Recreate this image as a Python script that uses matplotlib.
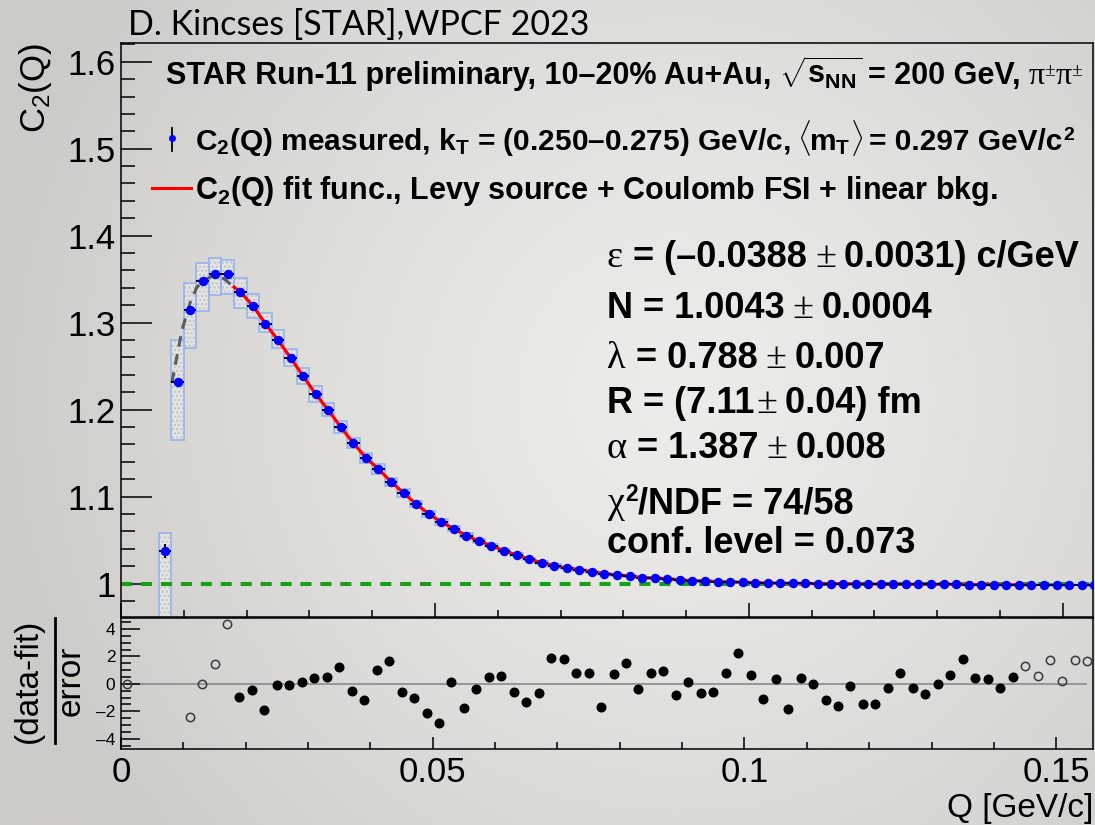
import numpy as np
import matplotlib.pyplot as plt
from matplotlib.lines import Line2D
from matplotlib.ticker import MultipleLocator

plt.rcParams['font.family'] = 'Liberation Sans'
plt.rcParams['mathtext.fontset'] = 'custom'
plt.rcParams['mathtext.rm'] = 'Liberation Sans'
plt.rcParams['mathtext.it'] = 'Liberation Sans:italic'
plt.rcParams['mathtext.bf'] = 'Liberation Sans:bold'
plt.rcParams['hatch.linewidth'] = 1.0

# ---- measured correlation function (bin centres in GeV/c) ----
q = np.round(np.arange(0.007, 0.1555, 0.002), 3)
c2 = np.array([
    1.038, 1.2315, 1.315, 1.3475, 1.356, 1.3555, 1.3355, 1.3195, 1.299, 1.280,
    1.2598, 1.2387, 1.218, 1.1997, 1.180, 1.1617, 1.1448, 1.1318, 1.1172, 1.1043,
    1.0916, 1.0805, 1.0709, 1.0632, 1.0552, 1.0491, 1.0437, 1.0379, 1.033, 1.0284,
    1.0241, 1.0207, 1.018, 1.0161, 1.0138, 1.0115, 1.010, 1.0089, 1.0069, 1.0066,
    1.0054, 1.0043, 1.0034, 1.0031, 1.0023, 1.002, 1.0016, 1.0011, 1.0008, 1.0006,
    1.0004, 1.0003, 1.0001, 1.0000, 0.9999, 0.9998, 0.9997, 0.9996, 0.9995, 0.9994,
    0.9993, 0.9993, 0.9992, 0.9991, 0.9990, 0.9990, 0.9989, 0.9988, 0.9988, 0.9987,
    0.9987, 0.9986, 0.9986, 0.9985, 0.9985])
stat_err = np.array([0.008, 0.004, 0.003, 0.0022, 0.0018, 0.0015, 0.0013, 0.0012, 0.0011, 0.001]
                    + [0.0008] * 20 + [0.0006] * 20 + [0.0005] * 25)
sys_up = np.array([
    0.020, 0.049, 0.031, 0.0215, 0.018, 0.017, 0.016, 0.014, 0.012, 0.0115,
    0.010, 0.009, 0.0092, 0.0075, 0.0066, 0.006, 0.0057, 0.0052, 0.0048, 0.0045,
    0.004, 0.0034, 0.0031, 0.0028, 0.0025, 0.0023, 0.0021, 0.0019, 0.0017, 0.0016,
    0.0015, 0.0014, 0.0013, 0.0012, 0.0011, 0.0010, 0.0010, 0.0009, 0.0009, 0.0008,
    0.0008, 0.0007, 0.0007, 0.0007, 0.0006, 0.0006, 0.0006, 0.0006, 0.0005, 0.0005]
    + [0.0005] * 25)
sys_dn = np.concatenate([[0.09, 0.066, 0.044, 0.034, 0.024, 0.022, 0.019, 0.0145, 0.010, 0.0095, 0.010, 0.009],
                         sys_up[12:]])

# fit range and the dashed extrapolation of the fit function outside it
fit_lo, fit_hi = 0.018, 0.144
extra_lo_q = [0.0081, 0.0097, 0.011, 0.0121, 0.0135, 0.0147, 0.0163, 0.018]
extra_lo_c2 = [1.231, 1.291, 1.323, 1.341, 1.350, 1.354, 1.351, 1.341]
extra_hi_q = [0.144, 0.155]
extra_hi_c2 = [0.99875, 0.9985]

# ---- residuals (data-fit)/error ----
res_q = np.round(np.concatenate([[0.001], np.arange(0.011, 0.1555, 0.002)]), 3)
res_val = np.array([
    0.0, -2.42, 0.0, 1.45, 4.34, -0.95, -0.46, -1.92, -0.07, -0.05,
    0.15, 0.46, 0.51, 1.21, -0.53, -1.19, 1.02, 1.65, -0.58, -1.02,
    -2.11, -2.88, 0.15, -1.75, -0.34, 0.51, 0.58, -0.58, -1.31, -0.66,
    1.90, 1.82, 0.82, 0.82, -1.72, 0.70, 1.50, -0.41, 0.80, 0.95,
    -0.78, 0.10, -0.70, -0.61, 0.80, 2.23, 0.63, -1.07, 0.32, -1.87,
    0.41, 0.02, -1.21, -1.60, -0.19, -1.50, -1.50, -0.32, 0.78, -0.28,
    -0.73, 0.0, 0.63, 1.83, 0.46, 0.34, -0.32, 0.47, 1.33, 0.58,
    1.75, 0.24, 1.75, 1.70])

W, H = 1095, 825
fig = plt.figure(figsize=(W / 100, H / 100), dpi=100)


def fx(px):
    return px / W


def fy(py):
    return 1 - py / H


# slide background: soft radial grey gradient
bg = fig.add_axes([0, 0, 1, 1], zorder=-10)
yy, xx = np.mgrid[0:1:165j, 0:1:219j]
d = np.clip(np.hypot((xx - 0.62) * 1.33, yy - 0.48) / 0.85, 0, 1)
c_in = np.array([237, 236, 233]) / 255
c_out = np.array([205, 203, 199]) / 255
bg.imshow(c_in + (c_out - c_in) * d[..., None] ** 1.3, extent=[0, 1, 0, 1],
          aspect='auto', interpolation='bicubic')
bg.axis('off')

ax = fig.add_axes([fx(121), fy(617), (1093 - 121) / W, (617 - 43) / H])
rax = fig.add_axes([fx(121), fy(749), (1093 - 121) / W, (749 - 618) / H])
for a in (ax, rax):
    a.set_facecolor('none')
    for s in a.spines.values():
        s.set_linewidth(1.1)

# systematic error boxes
ax.bar(q, sys_up + sys_dn, bottom=c2 - sys_dn, width=0.002, color='#e3e3e3',
       edgecolor='#c2c2c2', hatch='....', linewidth=0, zorder=1)
ax.bar(q, sys_up + sys_dn, bottom=c2 - sys_dn, width=0.002, fill=False,
       edgecolor='#94b4ee', linewidth=1.2, zorder=1.5)

ax.axhline(1.0, color='#16a016', lw=2.9, ls=(0, (2.75, 2.2)), zorder=2)

ax.plot(extra_lo_q, extra_lo_c2, color='#5c5c5c', lw=2.2, ls=(0, (3.5, 2.5)), zorder=2.5)
ax.plot(extra_hi_q, extra_hi_c2, color='#5c5c5c', lw=2.2, ls=(0, (3.5, 2.5)), zorder=2.5)
in_fit = (q > fit_lo) & (q < fit_hi)
ax.plot(np.concatenate([[fit_lo], q[in_fit], [fit_hi]]),
        np.concatenate([[extra_lo_c2[-1]], c2[in_fit], [extra_hi_c2[0]]]),
        color='#ff0000', lw=2.3, zorder=3)

ax.errorbar(q, c2, xerr=0.001, yerr=stat_err, fmt='none', ecolor='black',
            elinewidth=1.4, capsize=0, zorder=4)
ax.plot(q, c2, 'o', color='#0000ff', ms=5.8, mec='#0000ff', zorder=5)

ax.set_xlim(0, 0.1548)
ax.set_ylim(0.9617, 1.6215)
ax.set_yticks([1.0, 1.1, 1.2, 1.3, 1.4, 1.5, 1.6], ['1', '1.1', '1.2', '1.3', '1.4', '1.5', '1.6'])
ax.yaxis.set_minor_locator(MultipleLocator(0.02))
ax.xaxis.set_major_locator(MultipleLocator(0.05))
ax.xaxis.set_minor_locator(MultipleLocator(0.01))
ax.tick_params(axis='y', which='major', direction='in', length=22, width=1.1, labelsize=25, pad=4)
ax.tick_params(axis='y', which='minor', direction='in', length=10, width=1.1)
ax.tick_params(axis='x', which='major', direction='in', length=10, width=1.1, labelbottom=False)
ax.tick_params(axis='x', which='minor', direction='in', length=5, width=1.1)

# residual panel
fitted = (res_q > fit_lo) & (res_q < fit_hi)
rax.hlines(0, 0, 0.155, color='#8a8a8a', lw=1.2, zorder=1)
rax.plot(res_q[fitted], res_val[fitted], 'o', color='black', ms=6.2, zorder=3)
rax.plot(res_q[~fitted], res_val[~fitted], 'o', mfc='none', mec='#3a3a3a', ms=6.0, mew=1.1, zorder=3)
rax.set_xlim(0, 0.1559)
rax.set_ylim(-4.75, 4.8)
rax.set_yticks([-4, -2, 0, 2, 4], ['\u20134', '\u20132', '0', '2', '4'])
rax.yaxis.set_minor_locator(MultipleLocator(0.5))
rax.set_xticks([0, 0.05, 0.1, 0.15], ['0', '0.05', '0.1', '0.15'])
rax.xaxis.set_minor_locator(MultipleLocator(0.01))
rax.tick_params(axis='y', which='major', direction='in', length=13.5, width=1.1, labelsize=12.5, pad=4)
rax.tick_params(axis='y', which='minor', direction='in', length=7, width=1.1)
rax.tick_params(axis='x', which='major', direction='in', length=8.5, width=1.1, labelsize=25, pad=5)
rax.tick_params(axis='x', which='minor', direction='in', length=5, width=1.1)

# axis titles
fig.text(fx(1093), fy(817), 'Q [GeV/c]', ha='right', va='baseline', fontsize=24)
fig.text(fx(35), fy(43), r'$\mathrm{C_{2}(Q)}$', rotation=90, ha='center', va='top', fontsize=25)
fig.text(fx(37), fy(681), '(data-fit)', rotation=90, rotation_mode='anchor',
         ha='center', va='baseline', fontsize=24)
fig.text(fx(80), fy(681), 'error', rotation=90, rotation_mode='anchor',
         ha='center', va='baseline', fontsize=24)
fig.add_artist(Line2D([fx(55), fx(55)], [fy(618), fy(743)], transform=fig.transFigure,
                      color='black', lw=2))

fig.text(fx(128), fy(35), 'D. Kincses [STAR],WPCF 2023', family='Lato', fontsize=24.5, va='baseline')

renderer = fig.canvas.get_renderer()


def put_row(x, y, pieces):
    # lay text pieces side by side on one baseline (pixel coordinates from top-left)
    cx = x
    for s, kw, gap, dy in pieces:
        cx += gap
        t = fig.text(cx / W, 1 - (y - dy) / H, s, ha='left', va='baseline', **kw)
        cx = t.get_window_extent(renderer).x1


leg = dict(fontsize=22, fontweight='bold')
leg_gr = dict(fontsize=23, family='Liberation Serif')
leg_sup = dict(fontsize=14, family='Liberation Serif')
put_row(166, 84, [
    ('STAR Run-11 preliminary, 10\u201320% Au+Au,', leg, 0, 0),
    (r'$\sqrt{\mathbf{s_{NN}}}$', leg, 8, 0),
    ('= 200 GeV,', leg, 5, 0),
    ('\u03c0', leg_gr, 8, 0), ('\u00b1', leg_sup, 0, 8),
    ('\u03c0', leg_gr, 0, 0), ('\u00b1', leg_sup, 0, 8),
])
leg2 = dict(fontsize=21.5, fontweight='bold')
put_row(195, 150, [
    (r'$\mathbf{C_{2}(Q)}$ measured, $\mathbf{k_{T}}$ = (0.250' '\u2013' '0.275) GeV/c,', leg2, 0, 0),
    (r'$\mathbf{\langle}$', leg2, 7, 0),
    (r'$\mathbf{m_{T}}$', leg2, -2, 0),
    (r'$\mathbf{\rangle}$', leg2, -1, 0),
    ('= 0.297 GeV/c', leg2, 6, 0),
    ('2', dict(fontsize=14, fontweight='bold'), 1, 10),
])
fig.text(fx(195), fy(199), r'$\mathbf{C_{2}(Q)}$ fit func., Levy source + Coulomb FSI + linear bkg.',
         va='baseline', **leg)
fig.add_artist(Line2D([fx(172), fx(172)], [fy(128), fy(151)], transform=fig.transFigure,
                      color='black', lw=1.3))
fig.add_artist(Line2D([fx(172)], [fy(138)], transform=fig.transFigure, marker='o',
                      color='#0000ff', ms=4))
fig.add_artist(Line2D([fx(152), fx(191)], [fy(188), fy(188)], transform=fig.transFigure,
                      color='#ff0000', lw=2.2))

# fit parameters
bold = dict(fontsize=26, fontweight='bold')
greek = dict(fontsize=27.5, family='Liberation Serif')
sup = dict(fontsize=16.5, fontweight='bold')
x0 = 607
put_row(x0, 267, [('\u03b5', greek, 0, 0), ('= (\u20130.0388', bold, 10, 0),
                  ('\u00b1', greek, 8, 0), ('0.0031) c/GeV', bold, 8, 0)])
put_row(x0, 318, [('N = 1.0043', bold, 0, 0), ('\u00b1', greek, 8, 0), ('0.0004', bold, 8, 0)])
put_row(x0, 368, [('\u03bb', greek, 0, 0), ('= 0.788', bold, 10, 0),
                  ('\u00b1', greek, 8, 0), ('0.007', bold, 8, 0)])
put_row(x0, 413, [('R = (7.11', bold, 0, 0), ('\u00b1', greek, 2, 0), ('0.04) fm', bold, 8, 0)])
put_row(x0, 458, [('\u03b1', greek, 0, 0), ('= 1.387', bold, 10, 0),
                  ('\u00b1', greek, 8, 0), ('0.008', bold, 8, 0)])
put_row(x0, 513, [('\u03c7', greek, 0, 0), ('2', sup, 1, 12), ('/NDF = 74/58', bold, 0, 0)])
put_row(x0, 553, [('conf. level = 0.073', bold, 0, 0)])

fig.savefig('out.png', dpi=100)
